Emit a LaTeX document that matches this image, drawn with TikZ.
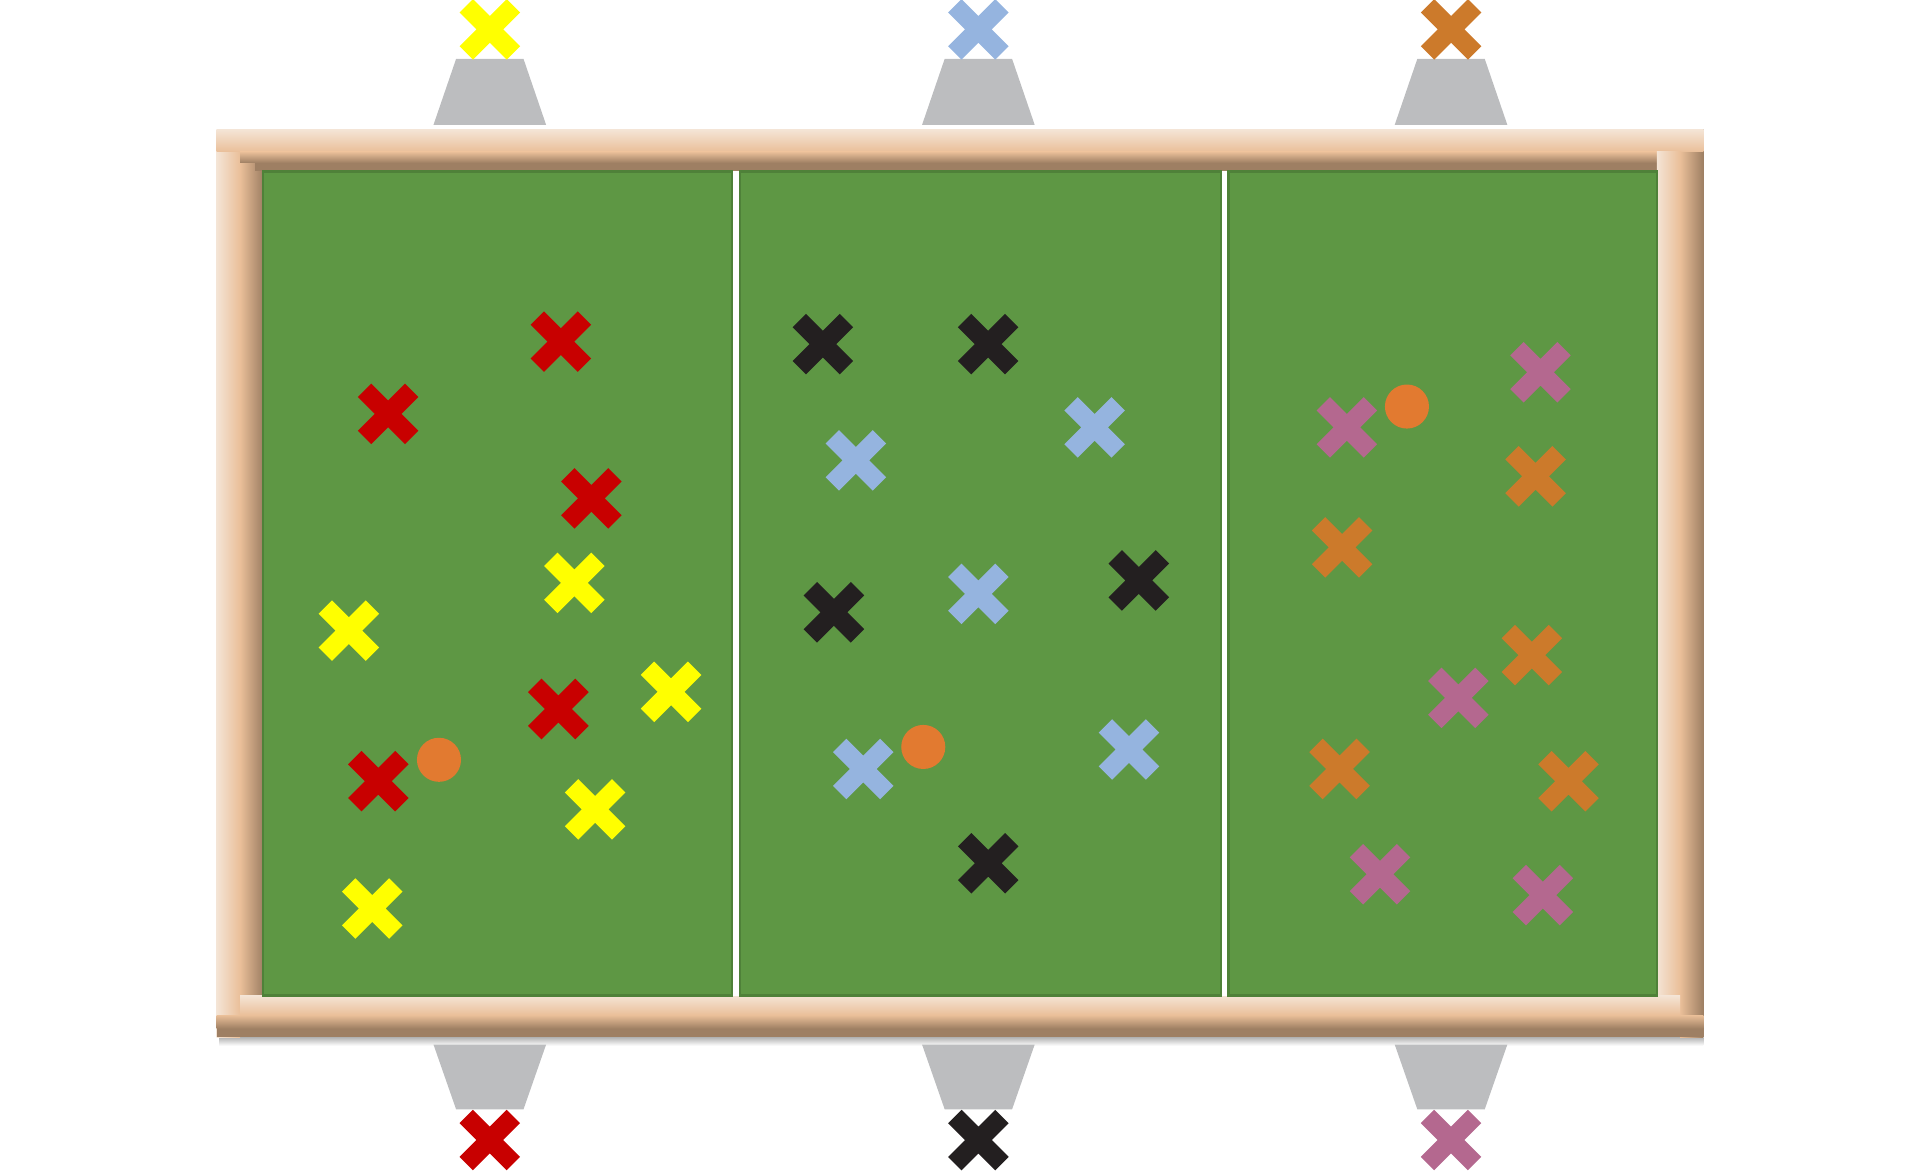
\documentclass[tikz,border=0pt]{standalone}
\definecolor{frlight}{HTML}{F4E4D5}
\definecolor{frmid}{HTML}{EABF99}
\definecolor{frdark}{HTML}{9E7F63}
\definecolor{field}{HTML}{5E9744}
\definecolor{fielddark}{HTML}{4F8139}
\definecolor{goalgray}{HTML}{BCBDBF}
\definecolor{xred}{HTML}{C80000}
\definecolor{xyellow}{HTML}{FFFF00}
\definecolor{xblue}{HTML}{95B4DF}
\definecolor{xblack}{HTML}{231F20}
\definecolor{xorange}{HTML}{CC7A2B}
\definecolor{xpink}{HTML}{B4688F}
\definecolor{ballorange}{HTML}{E27A30}
\usepackage{tikz}
\usetikzlibrary{shapes.misc, positioning}

\begin{document}
\begin{tikzpicture}[x=0.02cm, y=-0.02cm,
        player/.style={cross out, draw=#1, line width=8.8pt, minimum size=0.77cm, inner sep=0pt, outer sep=0pt},
        matchball/.style={circle, fill=ballorange, minimum size=0.72cm, inner sep=0pt}]
    \useasboundingbox (0,0) rectangle (1568,957);
    % frame
    \shade[top color=black!30, bottom color=white] (179,847) rectangle (1391,854);
    \fill[frmid] (177,106) rectangle (1391,847);
    \shade[left color=frlight, right color=frmid] (177,106) rectangle (196,847);
    \shade[left color=frmid, right color=frdark] (1372,106) rectangle (1391,847);
    \shade[top color=frlight, bottom color=frmid] (177,106) rectangle (1391,124);
    \shade[top color=frmid, bottom color=frdark] (177,829) rectangle (1391,840);
    \fill[frdark] (177,840) rectangle (1391,847);
    \shade[left color=frmid, right color=frdark] (196,124) rectangle (215,813);
    \shade[top color=frmid, bottom color=frdark] (196,124) rectangle (1353,133);
    \fill[frdark] (208,133) rectangle (1353,140);
    \shade[left color=frlight, right color=frmid] (1353,124) rectangle (1372,829);
    \shade[top color=frlight, bottom color=frmid] (196,813) rectangle (1372,829);
    % field, three zones
    \fill[white] (215,140) rectangle (1353,813);
    \foreach \a/\b in {215/597.5, 604/996.8, 1003.2/1353}
        \filldraw[fill=field, draw=fielddark, line width=1pt] (\a,140) rectangle (\b,813);
    % goals
    \foreach \x in {400, 799, 1185} {
        \fill[goalgray] (\x-27.5,48) -- (\x+27.5,48) -- (\x+46,102) -- (\x-46,102) -- cycle;
        \fill[goalgray] (\x-46,853) -- (\x+46,853) -- (\x+27.5,906) -- (\x-27.5,906) -- cycle;
    }
    % team marks at the goals
    \foreach \n/\c/\x/\y in {gy/xyellow/400/24, gb/xblue/799/24, go/xorange/1185/24,
                             gr/xred/400/931, gk/xblack/799/931, gp/xpink/1185/931}
        \node[player=\c] (\n) at (\x,\y) {};
    % players
    \foreach \n/\c/\x/\y in {r1/xred/458/279, r2/xred/317/338, r3/xred/483/407, r4/xred/456/579, r5/xred/309/638,
                             y1/xyellow/469/476, y2/xyellow/285/515, y3/xyellow/548/565, y4/xyellow/486/661, y5/xyellow/304/742,
                             k1/xblack/672/281, k2/xblack/807/281, k3/xblack/681/500, k4/xblack/930/474, k5/xblack/807/705,
                             b1/xblue/699/376, b2/xblue/894/349, b3/xblue/799/485, b4/xblue/705/628, b5/xblue/922/612,
                             p1/xpink/1258/304, p2/xpink/1100/349, p3/xpink/1191/570, p4/xpink/1127/714, p5/xpink/1260/731,
                             o1/xorange/1254/389, o2/xorange/1096/447, o3/xorange/1251/535, o4/xorange/1094/628, o5/xorange/1281/638}
        \node[player=\c] (\n) at (\x,\y) {};
    % balls
    \node[matchball] (ball1) at (358.5,620.5) {};
    \node[matchball] (ball2) at (754,610) {};
    \node[matchball] (ball3) at (1149,332) {};
\end{tikzpicture}
\end{document}
